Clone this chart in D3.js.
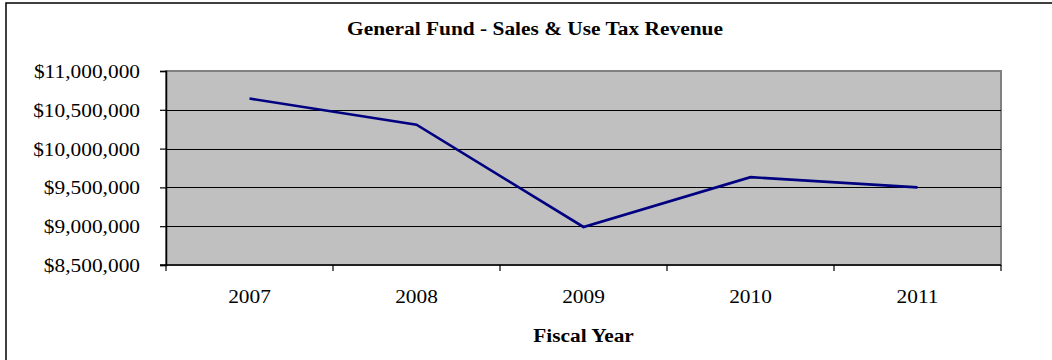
<!DOCTYPE html>
<html>
<head>
<meta charset="utf-8">
<script src="https://cdn.jsdelivr.net/npm/d3@7"></script>
<style>
  html, body { margin: 0; padding: 0; background: #fff; }
  svg { display: block; }
  text { font-family: "Liberation Serif", "Times New Roman", serif; fill: #000; }
</style>
</head>
<body>
<svg id="chart" width="1052" height="360"></svg>
<script>
// Sales & use tax revenue by fiscal year
const years = ["2007", "2008", "2009", "2010", "2011"];
const revenue = [10645000, 10308000, 8990000, 9632000, 9500000];
const yTicks = [8500000, 9000000, 9500000, 10000000, 10500000, 11000000];

const svg = d3.select("#chart");
const plot = { left: 166, top: 71, right: 1001, bottom: 265 };
const SX = 1.125; // slightly widened lettering

// place a text at (px, py) with horizontal widening about its anchor
function placeText(sel, px, py) {
  sel.attr("x", 0).attr("y", 0)
    .attr("transform", `translate(${px},${py}) scale(${SX},1)`);
  return sel;
}

// outer chart frame (extends past the visible canvas on the right and bottom)
svg.append("rect")
  .attr("x", 6).attr("y", 3)
  .attr("width", 1100).attr("height", 400)
  .attr("fill", "#fff").attr("stroke", "#000").attr("stroke-width", 1.5);

const x = d3.scaleBand().domain(years).range([plot.left, plot.right]).padding(0);
const y = d3.scaleLinear().domain([8500000, 11000000]).range([plot.bottom, plot.top]);

// plot area
svg.append("rect")
  .attr("x", plot.left).attr("y", plot.top)
  .attr("width", plot.right - plot.left).attr("height", plot.bottom - plot.top)
  .attr("fill", "#c0c0c0").attr("stroke", "#808080").attr("stroke-width", 2);

// horizontal gridlines
svg.append("g").selectAll("line")
  .data(yTicks.slice(1, -1))
  .join("line")
  .attr("x1", plot.left).attr("x2", plot.right)
  .attr("y1", d => Math.round(y(d)) + 0.5).attr("y2", d => Math.round(y(d)) + 0.5)
  .attr("stroke", "#000").attr("stroke-width", 1);

// y axis
const fmt = d => "$" + d3.format(",")(d);
const yAxis = svg.append("g")
  .attr("transform", `translate(${plot.left},0)`)
  .call(d3.axisLeft(y).tickValues(yTicks).tickFormat(fmt).tickSize(6).tickPadding(20));
yAxis.select(".domain").attr("stroke", "#000").attr("stroke-width", 1.5);
yAxis.selectAll(".tick line").attr("stroke", "#000").attr("stroke-width", 1.2);
yAxis.selectAll(".tick text")
  .style("font-family", "'Liberation Serif', 'Times New Roman', serif")
  .style("font-size", "19px").attr("fill", "#000")
  .attr("dy", null)
  .each(function () { placeText(d3.select(this), -26, 6.5); });

// x axis with ticks on category boundaries
const xAxis = svg.append("g").attr("transform", `translate(0,${plot.bottom})`);
xAxis.append("line")
  .attr("x1", plot.left - 6).attr("x2", plot.right)
  .attr("y1", 0).attr("y2", 0)
  .attr("stroke", "#000").attr("stroke-width", 1.5);
const bounds = years.map(d => x(d)).concat([x(years[years.length - 1]) + x.bandwidth()]);
xAxis.selectAll("line.tick")
  .data(bounds)
  .join("line").attr("class", "tick")
  .attr("x1", d => d).attr("x2", d => d)
  .attr("y1", 0).attr("y2", 6)
  .attr("stroke", "#000").attr("stroke-width", 1.2);
xAxis.selectAll("text")
  .data(years)
  .join("text")
  .attr("text-anchor", "middle")
  .style("font-size", "19px")
  .text(d => d)
  .each(function (d) { placeText(d3.select(this), x(d) + x.bandwidth() / 2, 38); });

// revenue line
const line = d3.line()
  .x((d, i) => x(years[i]) + x.bandwidth() / 2)
  .y(d => y(d));
svg.append("path")
  .datum(revenue)
  .attr("d", line)
  .attr("fill", "none")
  .attr("stroke", "#000080")
  .attr("stroke-width", 2.6)
  .attr("stroke-linejoin", "miter");

// titles
placeText(svg.append("text")
  .attr("text-anchor", "middle")
  .style("font-size", "19px").style("font-weight", "bold")
  .text("General Fund - Sales & Use Tax Revenue"), 535, 35);

placeText(svg.append("text")
  .attr("text-anchor", "middle")
  .style("font-size", "19px").style("font-weight", "bold")
  .text("Fiscal Year"), (plot.left + plot.right) / 2, 342);
</script>
</body>
</html>
